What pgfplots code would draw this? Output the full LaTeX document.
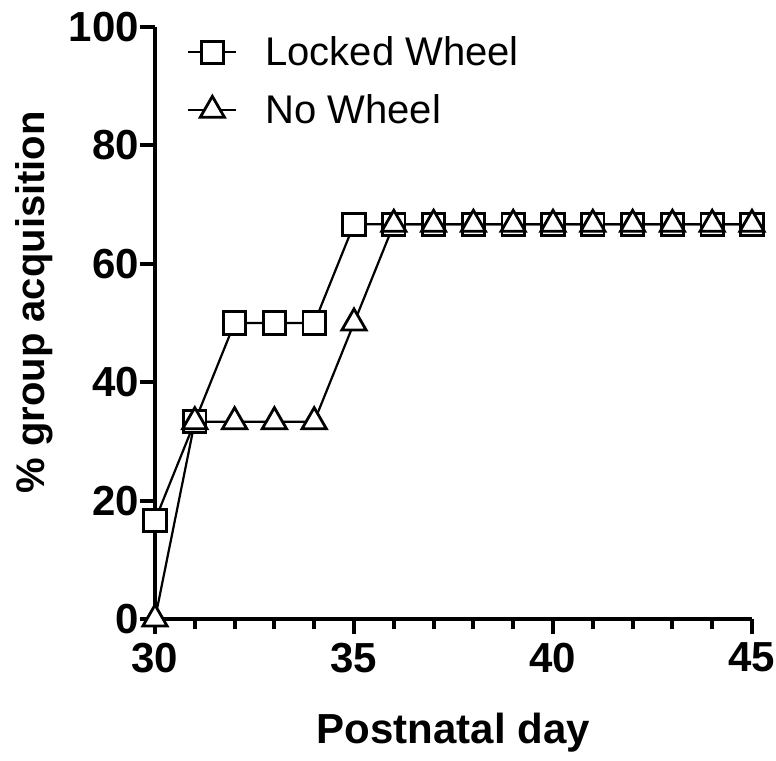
\documentclass[border=0pt]{standalone}
\usepackage{fontspec}
\setmainfont{Liberation Sans}
\usepackage{pgfplots}
\pgfplotsset{compat=1.18}
\begin{document}
\begin{tikzpicture}
\useasboundingbox (-77.5pt,-70.5pt) rectangle (310.5pt,309.5pt);
\begin{axis}[
  at={(0,0)}, anchor=south west,
  scale only axis, width=298.5pt, height=296pt,
  xmin=30, xmax=45, ymin=0, ymax=100,
  axis x line=bottom, axis y line=left,
  axis line style={-, line width=2pt},
  clip=false,
  xtick={30,35,40,45}, minor xtick={31,32,33,34,36,37,38,39,41,42,43,44},
  ytick={0,20,40,60,80,100},
  tick align=outside,
  major tick length=7.5pt, minor tick length=5pt,
  every tick/.style={line width=2pt, black},
  /pgf/number format/assume math mode=true,
  ticklabel style={font=\fontsize{21}{21}\selectfont\bfseries},
  xticklabel style={yshift=-1pt},
  yticklabel style={xshift=3pt},
  xlabel={Postnatal day},
  ylabel={\% group acquisition},
  every axis x label/.style={at={(axis description cs:0.5,0)}, anchor=center, yshift=-57pt,
    font=\fontsize{21}{21}\selectfont\bfseries},
  every axis y label/.style={at={(axis description cs:-0.203,0.535)}, anchor=center, rotate=90,
    font=\fontsize{20}{20}\selectfont\bfseries},
  legend style={draw=none, fill=none, at={(axis description cs:0.05,0.995)}, anchor=north west,
    font=\fontsize{20}{20}\selectfont, row sep=9pt, column sep=12pt, inner sep=1pt},
  legend cell align=left,
  legend image code/.code={
    \draw[line width=1.1pt,mark=none] (0pt,0pt) -- (24pt,0pt);
    \draw[#1] plot coordinates {(12pt,0pt)};
  },
]
\addplot[black, line width=1.1pt, mark=square*, mark size=5.6pt,
  mark options={fill=white, line width=1.4pt, solid}]
  coordinates {(30,16.67)(31,33.33)(32,50)(33,50)(34,50)(35,66.67)(36,66.67)(37,66.67)(38,66.67)(39,66.67)(40,66.67)(41,66.67)(42,66.67)(43,66.67)(44,66.67)(45,66.67)};
\addlegendentry{Locked Wheel}
\addplot[black, line width=1.1pt, mark=triangle*, mark size=7pt,
  mark options={fill=white, line width=1.4pt, solid}]
  coordinates {(30,0)(31,33.33)(32,33.33)(33,33.33)(34,33.33)(35,50)(36,66.67)(37,66.67)(38,66.67)(39,66.67)(40,66.67)(41,66.67)(42,66.67)(43,66.67)(44,66.67)(45,66.67)};
\addlegendentry{No Wheel}
\end{axis}
\end{tikzpicture}
\end{document}
